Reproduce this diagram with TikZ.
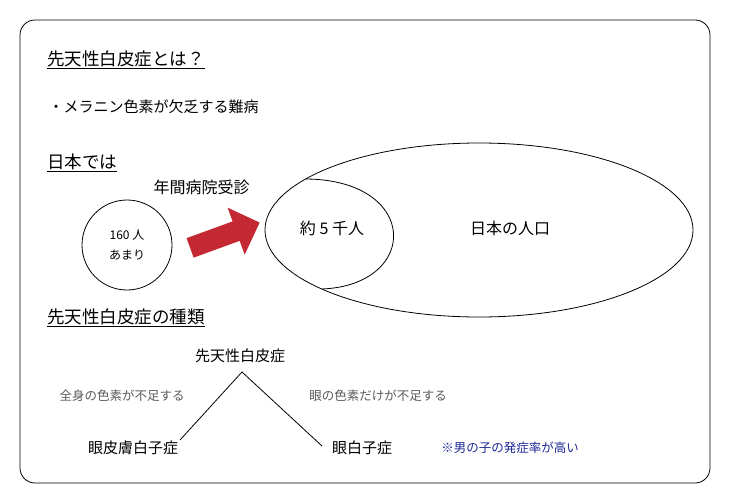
\documentclass[tikz,border=0pt]{standalone}
\usepackage{fontspec}
\setmainfont{Noto Sans CJK JP}
\usetikzlibrary{shapes.arrows,shapes.geometric}
\definecolor{arrred}{RGB}{196,40,50}
\definecolor{notegray}{RGB}{90,90,90}
\definecolor{noteblue}{RGB}{30,40,150}
\tikzset{
  ttl/.style={anchor=west,font=\fontsize{17.5}{20}\selectfont,inner sep=1pt},
  body/.style={font=\fontsize{15}{18}\selectfont},
  small/.style={font=\fontsize{12.5}{15}\selectfont,text=notegray},
}
\begin{document}
\begin{tikzpicture}[x=1pt,y=-1pt]
\useasboundingbox (0,0) rectangle (730,503);
\draw[rounded corners=15pt,line width=0.8pt] (20,20) rectangle (710,483);
\node[ttl] (t1) at (46,60) {\underline{先天性白皮症とは？}};
\node[body,anchor=west] (b1) at (45,107) {・メラニン色素が欠乏する難病};
\node[ttl] (t2) at (46,163) {\underline{日本では}};
\node[body,anchor=west,font=\fontsize{16}{19}\selectfont] (y) at (150,187) {年間病院受診};
\node[draw,circle,minimum size=90pt,line width=0.8pt,align=center,font=\fontsize{12}{20}\selectfont] (c) at (127,245) {160 人\\あまり};
\node[single arrow,fill=arrred,minimum height=74pt,minimum width=50pt,inner sep=9pt,single arrow head extend=13pt,rotate=20] (ar) at (220,237) {};
\node[draw,ellipse,minimum width=428pt,minimum height=174pt,line width=0.8pt] (e) at (479,230) {};
\draw[line width=0.8pt] (306,179) .. controls (420,180) and (420,285) .. (322,289);
\node[body,font=\fontsize{16}{19}\selectfont] (k) at (332,228) {約 5 千人};
\node[body,font=\fontsize{16}{19}\selectfont] (j) at (510,228) {日本の人口};
\node[ttl] (t3) at (46,318) {\underline{先天性白皮症の種類}};
\node[body] (r) at (240,356) {先天性白皮症};
\coordinate (top) at (242,372);
\node[body] (l) at (133,448) {眼皮膚白子症};
\node[body] (m) at (362,448) {眼白子症};
\draw[line width=0.8pt] (180,440) -- (top) -- (322,446);
\node[small] (s1) at (122,396) {全身の色素が不足する};
\node[small] (s2) at (378,396) {眼の色素だけが不足する};
\node[font=\fontsize{12.5}{15}\selectfont,text=noteblue] (n) at (510,448) {※男の子の発症率が高い};
\end{tikzpicture}
\end{document}
